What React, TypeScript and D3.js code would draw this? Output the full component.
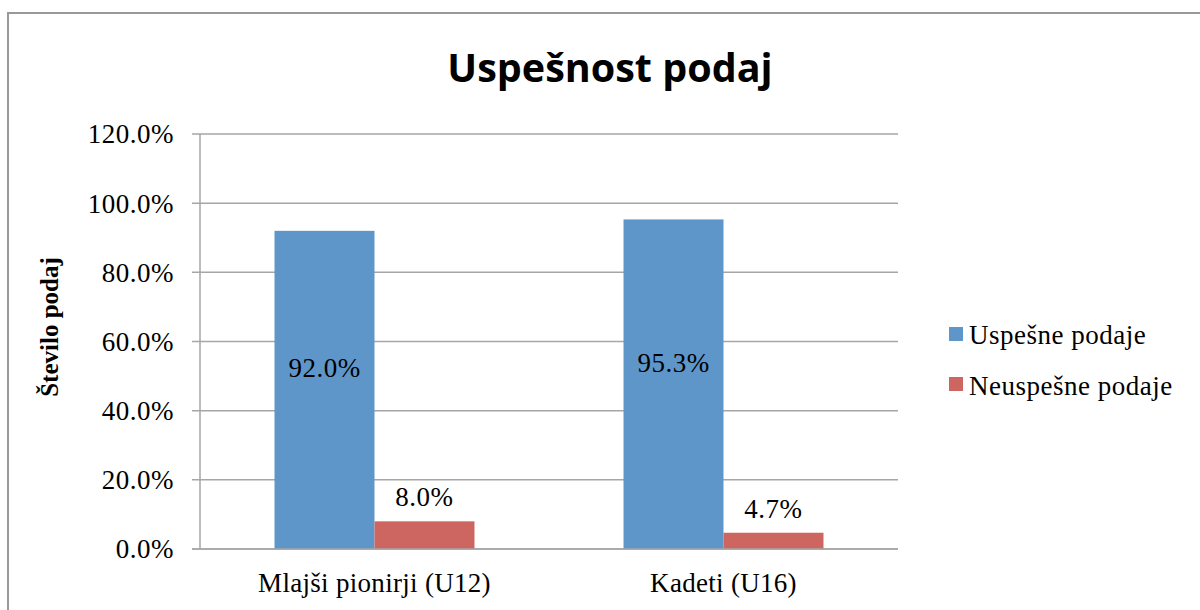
import React from "react";
import * as d3 from "d3";

const categories = ["Mlajši pionirji (U12)", "Kadeti (U16)"];
const seriesNames = ["Uspešne podaje", "Neuspešne podaje"];
const uspesne = [92.0, 95.3];
const neuspesne = [8.0, 4.7];
const yTicks = [0, 20, 40, 60, 80, 100, 120];
const colors = ["#5F96C9", "#CD6661"];

const W = 1200;
const H = 610;
const serif = "'Liberation Serif', 'Times New Roman', serif";

export default function App() {
  const left = 200, right = 898, top = 134, bottom = 549;
  const y = d3.scaleLinear().domain([0, 120]).range([bottom, top]);
  const x = d3.scaleBand<string>().domain(categories).range([left, right]).paddingInner(0.427).paddingOuter(0.2135);
  const xs = d3.scaleBand<string>().domain(seriesNames).range([0, x.bandwidth()]);
  const series = [uspesne, neuspesne];
  const fmt = (v: number) => v.toFixed(1) + "%";
  return (
    <svg width={W} height={H} style={{ position: "absolute", left: 0, top: 0 }}>
      <rect x={0} y={0} width={W} height={H} fill="#fff" />
      <rect x={8} y={13} width={W + 20} height={H + 20} fill="none" stroke="#999" strokeWidth={2} />
      <text x={610} y={82} textAnchor="middle" fontFamily="'Open Sans', sans-serif" fontWeight={700} fontSize={39.5} fill="#000">
        Uspešnost podaj
      </text>
      {yTicks.map((t) => (
        <g key={t}>
          <line x1={left - 8} x2={right} y1={y(t)} y2={y(t)} stroke="#a6a6a6" strokeWidth={1.5} />
          <text x={174} y={y(t)} dy="0.35em" textAnchor="end" fontFamily={serif} fontSize={27} letterSpacing={0.5} fill="#000">
            {t.toFixed(1)}%
          </text>
        </g>
      ))}
      <line x1={left} x2={left} y1={top} y2={bottom} stroke="#a6a6a6" strokeWidth={1.5} />
      {categories.map((c, i) =>
        series.map((s, j) => {
          const bx = (x(c) ?? 0) + (xs(seriesNames[j]) ?? 0);
          const v = s[i];
          return (
            <g key={c + j}>
              <rect x={bx} y={y(v)} width={xs.bandwidth()} height={bottom - y(v)} fill={colors[j]} />
              {j === 0 ? (
                <text x={bx + xs.bandwidth() / 2} y={y(v / 2) - 22} dy="0.35em" textAnchor="middle" fontFamily={serif} fontSize={27} letterSpacing={0.5} fill="#000">
                  {fmt(v)}
                </text>
              ) : (
                <text x={bx + xs.bandwidth() / 2} y={y(v) - 15} textAnchor="middle" fontFamily={serif} fontSize={27} letterSpacing={0.5} fill="#000">
                  {fmt(v)}
                </text>
              )}
            </g>
          );
        })
      )}
      <line x1={left - 8} x2={right} y1={bottom} y2={bottom} stroke="#a6a6a6" strokeWidth={1.5} />
      {categories.map((c) => (
        <text key={c} x={(x(c) ?? 0) + x.bandwidth() / 2} y={592} textAnchor="middle" fontFamily={serif} fontSize={27} letterSpacing={0.3} fill="#000">
          {c}
        </text>
      ))}
      <text transform={`translate(58,327) rotate(-90)`} textAnchor="middle" fontFamily={serif} fontWeight={700} fontSize={25} fill="#000">
        Število podaj
      </text>
      {seriesNames.map((n, j) => (
        <g key={n}>
          <rect x={949} y={327 + j * 50} width={14} height={14} fill={colors[j]} />
          <text x={969} y={344 + j * 51} fontFamily={serif} fontSize={27} letterSpacing={0.5} fill="#000">
            {n}
          </text>
        </g>
      ))}
    </svg>
  );
}
